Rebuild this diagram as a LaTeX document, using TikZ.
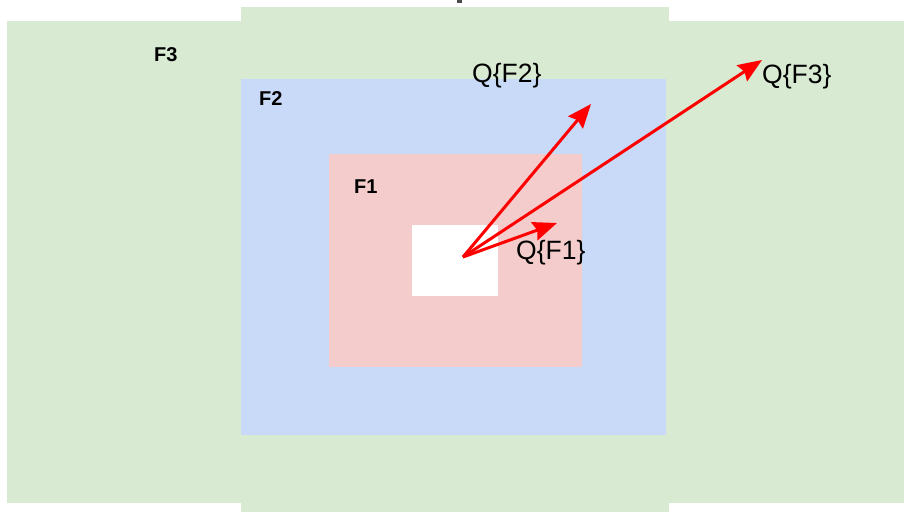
\documentclass[tikz,border=0pt]{standalone}
\usepackage{fontspec}
\setmainfont{Liberation Sans}
\usetikzlibrary{arrows.meta}
\definecolor{fthree}{HTML}{D9EAD3}
\definecolor{ftwo}{HTML}{C9DAF8}
\definecolor{fone}{HTML}{F4CCCC}
\tikzset{
  flabel/.style={anchor=base west, inner sep=0pt, font=\fontsize{20}{22}\selectfont\bfseries},
  qlabel/.style={anchor=base west, inner sep=0pt, font=\fontsize{26.5}{29}\selectfont},
  qarrow/.style={draw=red, line width=3pt, -{Stealth[length=24pt, width=19pt, inset=3pt]}}
}
\begin{document}
\begin{tikzpicture}[x=1pt, y=-1pt]
  \useasboundingbox (0,0) rectangle (904,512);
  % nested regions
  \fill[fthree] (7,21) rectangle (904,503);
  \fill[fthree] (241,7) rectangle (669,512);
  \fill[ftwo] (241,79) rectangle (666,435);
  \fill[fone] (329,154) rectangle (582,367);
  \fill[white] (412,225) rectangle (498,296);
  \fill[black!70] (457,0) rectangle (462,3);
  % region labels
  \node[flabel] (lf3) at (154,61) {F3};
  \node[flabel] (lf2) at (259,105) {F2};
  \node[flabel] (lf1) at (354,193) {F1};
  % arrows from the common origin
  \coordinate (o) at (463,257);
  \coordinate (e1) at (557,223);
  \coordinate (e2) at (591,104);
  \coordinate (e3) at (762,60);
  \draw[qarrow] (o) -- (e1);
  \draw[qarrow] (o) -- (e2);
  \draw[qarrow] (o) -- (e3);
  % arrow labels
  \node[qlabel] (q1) at (516,259) {Q\{F1\}};
  \node[qlabel] (q2) at (472,82) {Q\{F2\}};
  \node[qlabel] (q3) at (762,83) {Q\{F3\}};
\end{tikzpicture}
\end{document}
